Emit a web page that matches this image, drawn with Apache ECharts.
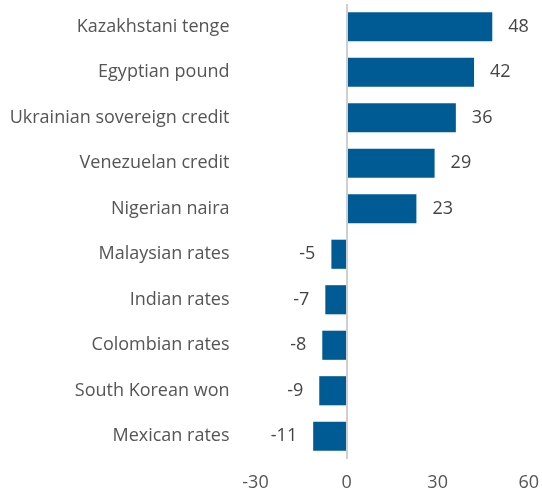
<!DOCTYPE html>
<html>
<head>
<meta charset="utf-8">
<script src="https://cdn.jsdelivr.net/npm/echarts@6/dist/echarts.min.js"></script>
<style>
  html, body { margin: 0; padding: 0; background: #fff; }
  #chart { width: 542px; height: 495px; }
</style>
</head>
<body>
<div id="chart"></div>
<script>
const categories = [
  'Kazakhstani tenge', 'Egyptian pound', 'Ukrainian sovereign credit',
  'Venezuelan credit', 'Nigerian naira', 'Malaysian rates', 'Indian rates',
  'Colombian rates', 'South Korean won', 'Mexican rates'
]
const values = [48, 42, 36, 29, 23, -5, -7, -8, -9, -11]
const xTicks = [-30, 0, 30, 60]

const font = 'Open Sans'
const myChart = echarts.init(document.getElementById('chart'))

const option = {
  animation: false,
  grid: {
    left: 255.5,
    right: 11,
    top: 4,
    bottom: 36,
    containLabel: false
  },
  xAxis: {
    type: 'value',
    min: xTicks[0],
    max: xTicks[xTicks.length - 1],
    interval: 30,
    axisLine: { show: false },
    axisTick: { show: false },
    splitLine: { show: false },
    axisLabel: {
      color: '#555',
      fontFamily: font,
      fontSize: 18,
      margin: 15
    }
  },
  yAxis: {
    type: 'category',
    inverse: true,
    data: categories,
    axisLine: { show: false },
    axisTick: { show: false },
    axisLabel: {
      color: '#555',
      fontFamily: font,
      fontSize: 18,
      margin: 26
    }
  },
  series: [
    {
      type: 'bar',
      barCategoryGap: '36%',
      itemStyle: { color: '#005b94' },
      data: values.map(v => ({
        value: v,
        label: { position: v < 0 ? 'left' : 'right' }
      })),
      label: {
        show: true,
        distance: 16,
        color: '#444',
        fontFamily: font,
        fontSize: 18
      },
      markLine: {
        silent: true,
        symbol: 'none',
        label: { show: false },
        lineStyle: { color: '#cfcfcf', type: 'solid', width: 2 },
        data: [{ xAxis: 0 }]
      }
    }
  ]
}

option && myChart.setOption(option)
</script>
</body>
</html>
